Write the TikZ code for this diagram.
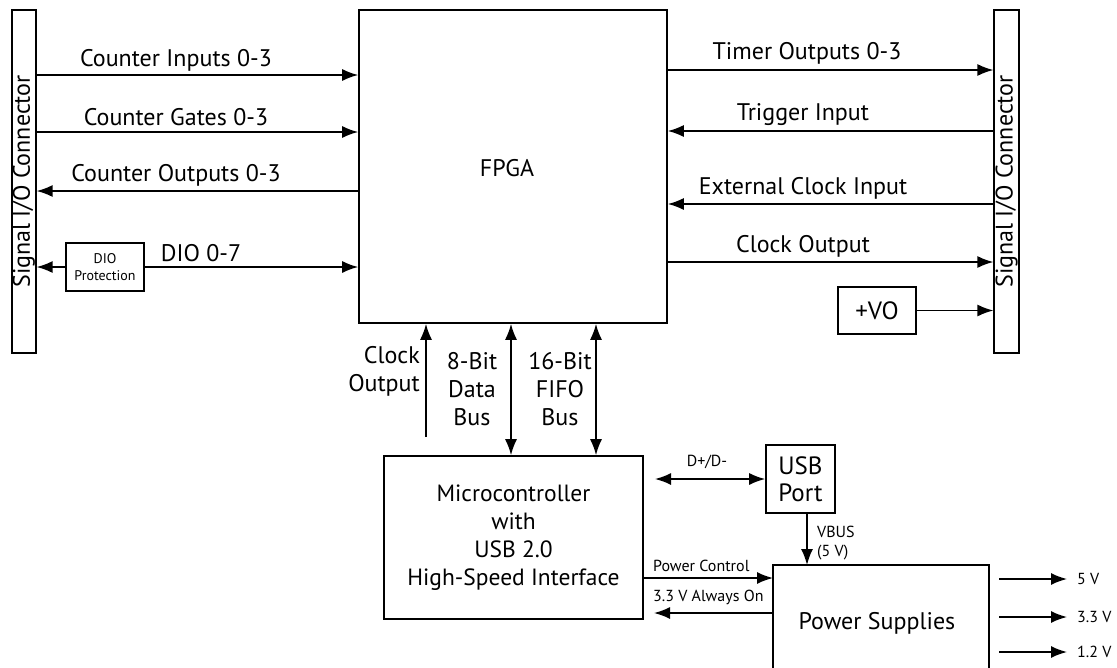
\documentclass[tikz,border=0pt]{standalone}
\usepackage{fontspec}
\setmainfont{PT Sans}
\usetikzlibrary{arrows.meta}
\begin{document}
\begin{tikzpicture}[x=1pt,y=-1pt,
  box/.style={draw,line width=1.6pt,inner sep=0pt},
  conn/.style={draw,line width=1.2pt,inner sep=0pt},
  arr/.style={line width=1.6pt,-{Latex[length=16pt,width=12pt]}},
  darr/.style={line width=1.6pt,{Latex[length=16pt,width=12pt]}-{Latex[length=16pt,width=12pt]}},
  lbl/.style={font=\fontsize{24}{28}\selectfont,inner sep=0pt},
  slbl/.style={font=\fontsize{16}{19}\selectfont,inner sep=0pt},
]
\useasboundingbox (0,0) rectangle (1117,667);
% connectors
\node[conn,minimum width=24pt,minimum height=343pt] (lc) at (24,181.5) {};
\node[rotate=90,lbl] at (lc.center) {Signal I/O Connector};
\node[conn,minimum width=25pt,minimum height=343pt] (rc) at (1006.5,181.5) {};
\node[rotate=90,lbl] at (rc.center) {Signal I/O Connector};
% FPGA
\node[box,minimum width=308pt,minimum height=313pt] (fpga) at (513,166.5) {};
\node[lbl] at (507,168) {FPGA};
% DIO protection
\node[box,line width=1.3pt,minimum width=78pt,minimum height=48pt,align=center,font=\fontsize{14}{17}\selectfont] (dio) at (105,267) {DIO\\Protection};
% +VO
\node[box,minimum width=78pt,minimum height=47pt,font=\fontsize{25}{28}\selectfont] (vo) at (877,310.5) {+VO};
% micro
\node[box,minimum width=259pt,minimum height=163pt,align=center,font=\fontsize{23.5}{28}\selectfont] (mc) at (513.5,537.5) {Microcontroller\\with\\USB 2.0\\High-Speed Interface};
% USB
\node[box,minimum width=69pt,minimum height=68pt,align=center,font=\fontsize{25}{27}\selectfont] (usb) at (800.5,479) {USB\\Port};
% Power supplies
\draw[line width=1.6pt] (773,680) -- (773,565) coordinate (pstl) -- (989,565) coordinate (pstr) -- (989,680);
\node[lbl] (pst) at (877,623) {Power Supplies};

% left arrows
\draw[arr] (lc.east |- 0,75) -- (fpga.west |- 0,75);
\node[lbl] at (176,60) {Counter Inputs 0-3};
\draw[arr] (lc.east |- 0,132) -- (fpga.west |- 0,132);
\node[lbl] at (176,117) {Counter Gates 0-3};
\draw[arr] (fpga.west |- 0,191) -- (lc.east |- 0,191);
\node[lbl] at (176,175) {Counter Outputs 0-3};
\draw[arr] (dio.east) -- (fpga.west |- dio.east);
\draw[arr] (dio.west) -- (lc.east |- dio.west);
\node[lbl] at (201,253) {DIO 0-7};
% right arrows
\draw[arr] (fpga.east |- 0,70) -- (rc.west |- 0,70);
\node[lbl] at (807,53) {Timer Outputs 0-3};
\draw[arr] (rc.west |- 0,131) -- (fpga.east |- 0,131);
\node[lbl] at (803,115) {Trigger Input};
\draw[arr] (rc.west |- 0,204) -- (fpga.east |- 0,204);
\node[lbl] at (803,188) {External Clock Input};
\draw[arr] (fpga.east |- 0,262) -- (rc.west |- 0,262);
\node[lbl] at (803,246) {Clock Output};
\draw[arr] (vo.east) -- (rc.west |- vo.east);
% bottom arrows
\coordinate (co) at (426,437);
\draw[arr] (co) -- (fpga.south -| co);
\node[lbl,align=right,anchor=east] at (420,371) {Clock\\Output};
\draw[darr] (mc.north -| 511,0) -- (fpga.south -| 511,0);
\node[lbl,align=center] at (472,389) {8-Bit\\Data\\Bus};
\draw[darr] (mc.north -| 596,0) -- (fpga.south -| 596,0);
\node[lbl,align=center] at (560,389) {16-Bit\\FIFO\\Bus};
% USB link
\draw[darr] (655,479) -- (usb.west |- 0,479);
\node[slbl] at (707,462) {D+/D-};
\draw[arr] (usb.south -| 807,0) -- (pstl -| 807,0);
\node[slbl,align=left,anchor=west] at (817,543) {VBUS\\(5 V)};
% power control
\draw[arr] (mc.east |- 0,578) -- (pstl |- 0,578);
\node[slbl,anchor=west] at (653,566) {Power Control};
\draw[arr] (pstl |- 0,613) -- (654,613);
\node[slbl,anchor=west] at (653,597) {3.3 V Always On};
% outputs
\coordinate (o1) at (999,579); \coordinate (o1e) at (1067,579);
\draw[arr] (o1) -- (o1e); \node[slbl,anchor=west] at (1077,579) {5 V};
\coordinate (o2) at (999,617); \coordinate (o2e) at (1067,617);
\draw[arr] (o2) -- (o2e); \node[slbl,anchor=west] at (1077,617) {3.3 V};
\coordinate (o3) at (999,652); \coordinate (o3e) at (1067,652);
\draw[arr] (o3) -- (o3e); \node[slbl,anchor=west] at (1077,652) {1.2 V};
\end{tikzpicture}
\end{document}
